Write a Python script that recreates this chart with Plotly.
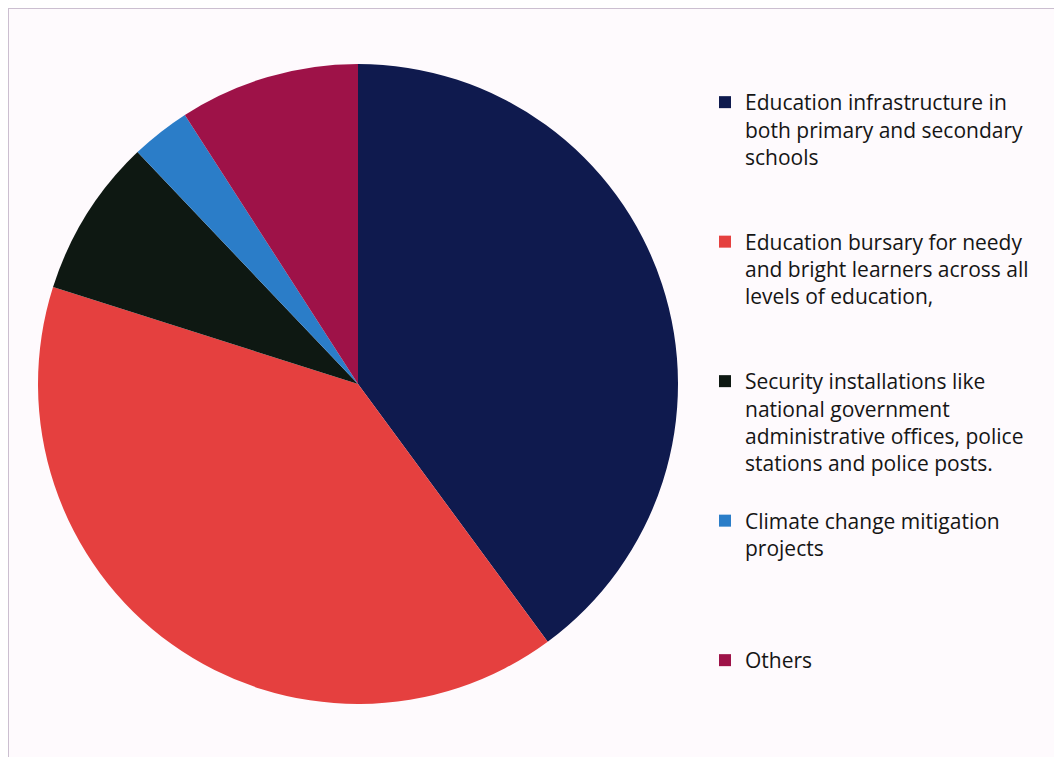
import plotly.graph_objects as go

categories = [
    "Education infrastructure in<br>both primary and secondary<br>schools",
    "Education bursary for needy<br>and bright learners across all<br>levels of education,",
    "Security installations like<br>national government<br>administrative offices, police<br>stations and police posts.",
    "Climate change mitigation<br>projects",
    "Others",
]
values = [39.9, 40.0, 8.0, 3.0, 9.1]
colors = ["#0f1a4e", "#e5403f", "#0e1812", "#2b7dc8", "#9e1248"]

# pad legend entries (except the last) to the same number of lines so entries are evenly spaced
LINES = 5
labels = []
for i, c in enumerate(categories):
    n = c.count("<br>") + 1
    pad = 0 if i == len(categories) - 1 else LINES - n
    labels.append(c + "<br> " * pad)

# the page body has an 8px margin, so the figure is laid out in page coordinates minus 8
OFF = 8
W, H = 1062 - OFF, 757 - OFF
cx, cy, r = 358 - OFF, 384 - OFF, 320

fig = go.Figure(
    go.Pie(
        labels=labels,
        values=values,
        marker=dict(colors=colors, line=dict(width=0)),
        sort=False,
        direction="clockwise",
        rotation=0,
        textinfo="none",
        hoverinfo="label+percent",
        domain=dict(x=[(cx - r) / W, (cx + r) / W], y=[(H - cy - r) / H, (H - cy + r) / H]),
    )
)

fig.update_layout(
    width=W,
    height=H,
    margin=dict(l=0, r=0, t=0, b=0),
    paper_bgcolor="#fefafd",
    plot_bgcolor="#fefafd",
    font=dict(family="Open Sans, Lato, sans-serif", size=21, color="#151515"),
    legend=dict(
        x=(719 - OFF - 14) / W,
        y=1 - (82 - OFF) / H,
        xanchor="left",
        yanchor="top",
        valign="top",
        bgcolor="rgba(0,0,0,0)",
        font=dict(size=21, color="#151515"),
    ),
    shapes=[
        dict(type="line", xref="paper", yref="paper", x0=0, x1=1, y0=1, y1=1,
             line=dict(color="#cbbfd0", width=2)),
        dict(type="line", xref="paper", yref="paper", x0=0, x1=0, y0=0, y1=1,
             line=dict(color="#cbbfd0", width=2)),
    ],
)

fig.write_html("out.html")
